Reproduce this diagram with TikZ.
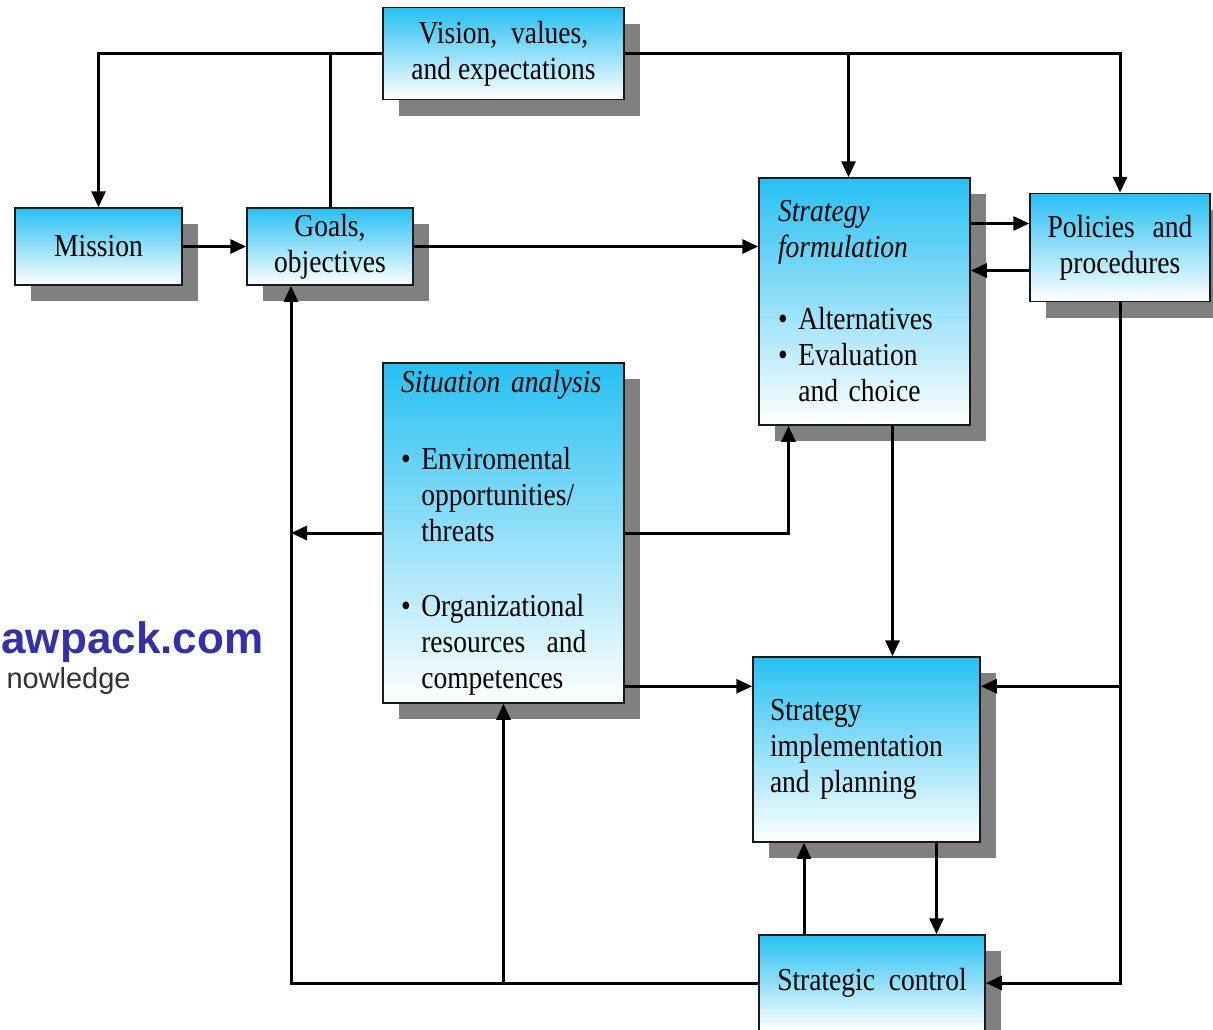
\documentclass[tikz,border=0pt]{standalone}
\usepackage{fontspec}
\setmainfont{Liberation Serif}[FakeStretch=0.86]
\newfontfamily\wmsans{Liberation Sans}
\usepackage{tikz}
\usetikzlibrary{shadows}
\usetikzlibrary{calc}
\usetikzlibrary{positioning, arrows.meta}

\definecolor{boxblue}{RGB}{38,192,242}
\definecolor{shadowgray}{RGB}{128,128,128}
\definecolor{wmblue}{RGB}{52,48,170}
\definecolor{wmgray}{RGB}{50,50,50}

\begin{document}
\begin{tikzpicture}[x=0.5pt, y=-0.5pt, line width=1.5pt,
    box/.style={draw=black!90, line width=0.75pt, top color=boxblue, bottom color=white,
        drop shadow={shadow xshift=8pt, shadow yshift=-8pt, fill=shadowgray, opacity=1},
        inner sep=0pt, font=\fontsize{16}{18}\selectfont},
    arr/.style={-{Triangle[length=8pt, width=7pt]}}]
            \path[use as bounding box, fill=white] (0,0) rectangle (1213,1029);
            \node [anchor=base west, inner sep=0pt, text=wmblue, font=\wmsans\bfseries\fontsize{22}{24}\selectfont] (site) at (0,653) {awpack.com};
            \node [anchor=base west, inner sep=0pt, text=wmgray, font=\wmsans\fontsize{14.5}{16}\selectfont] (tag) at (5,688) {nowledge};

            \node [box, minimum width=120.5pt, minimum height=46pt, align=center] (vision) at (503.5,53.5) {Vision,\ \ values,\\and expectations};
            \node [box, minimum width=83.5pt, minimum height=38.5pt, align=center] (mission) at (98.5,246.5) {Mission};
            \node [box, minimum width=83pt, minimum height=38.5pt, align=center] (goals) at (330,246.5) {Goals,\\objectives};
            \node [box, minimum height=123.5pt, inner xsep=9.5pt, text width=86.5pt, align=left] (sf) at (864.5,301.5)
                {\textit{Strategy}\\\textit{formulation}\\[18pt]\textbullet\ Alternatives\\\textbullet\ Evaluation\\\phantom{\textbullet\ }and choice};
            \node [box, minimum width=90pt, minimum height=54pt, align=center] (policies) at (1120,247.5) {Policies\hspace{9pt}and\\procedures};
            \node [box, minimum height=170pt, inner xsep=9pt, text width=102.5pt, align=left] (sa) at (503.5,533)
                {\textit{Situation analysis}\\[20.5pt]\textbullet\ Enviromental\\\phantom{\textbullet\ }opportunities/\\\phantom{\textbullet\ }threats\\[19.5pt]%
                 \textbullet\ Organizational\\\phantom{\textbullet\ }resources\ \ and\\\phantom{\textbullet\ }competences};
            \node [box, minimum height=92.5pt, inner xsep=8.5pt, text width=96.5pt, align=left] (si) at (866.5,749.5)
                {Strategy\\implementation\\and planning};
            \node [box, minimum width=113pt, minimum height=48pt, align=center] (sc) at (872,983) {Strategic\ \ control};

            % ends of the connectors that do not meet a node side at its middle
            \coordinate (sfin) at ([xshift=-8pt]sf.north);
            \coordinate (sfup) at ([xshift=-38pt]sf.south);
            \coordinate (sfdn) at ([xshift=14pt]sf.south);
            \coordinate (polA) at ([yshift=12pt]policies.west);
            \coordinate (polB) at ([yshift=-11.5pt]policies.west);
            \coordinate (siL) at ([yshift=-15pt]si.north west);
            \coordinate (siR) at ([yshift=-15pt]si.north east);
            \coordinate (sidn) at ([xshift=35pt]si.south);
            \coordinate (scup) at ([xshift=-34pt]sc.north);
            \coordinate (goin) at ([xshift=-19.5pt]goals.south);

            \draw [arr] (vision.west) -| (mission.north);
            \draw (goals.north) -- (goals.north |- vision.west);
            \draw [arr] (vision.east) -| (policies.north);
            \draw [arr] (sfin |- vision.east) -- (sfin);
            \draw [arr] (mission) -- (goals);
            \draw [arr] (goals.east) -- (goals.east -| sf.west);
            \draw [arr] (polA -| sf.east) -- (polA);
            \draw [arr] (polB) -- (polB -| sf.east);
            \draw [arr] (sfdn) -- (sfdn |- si.north);
            \draw [arr] (sa.east) -| (sfup);
            \draw [arr] (sa.west) -- (sa.west -| goin);
            \draw [arr] (sc.west) -| (goin);
            \draw [arr] (sa.south |- sc.west) -- (sa.south);
            \draw [arr] (siL -| sa.east) -- (siL);
            \draw [arr] (policies.south) |- (sc.east);
            \draw [arr] (policies.south |- siR) -- (siR);
            \draw [arr] (sidn) -- (sidn |- sc.north);
            \draw [arr] (scup) -- (scup |- si.south);
        \end{tikzpicture}
\end{document}
